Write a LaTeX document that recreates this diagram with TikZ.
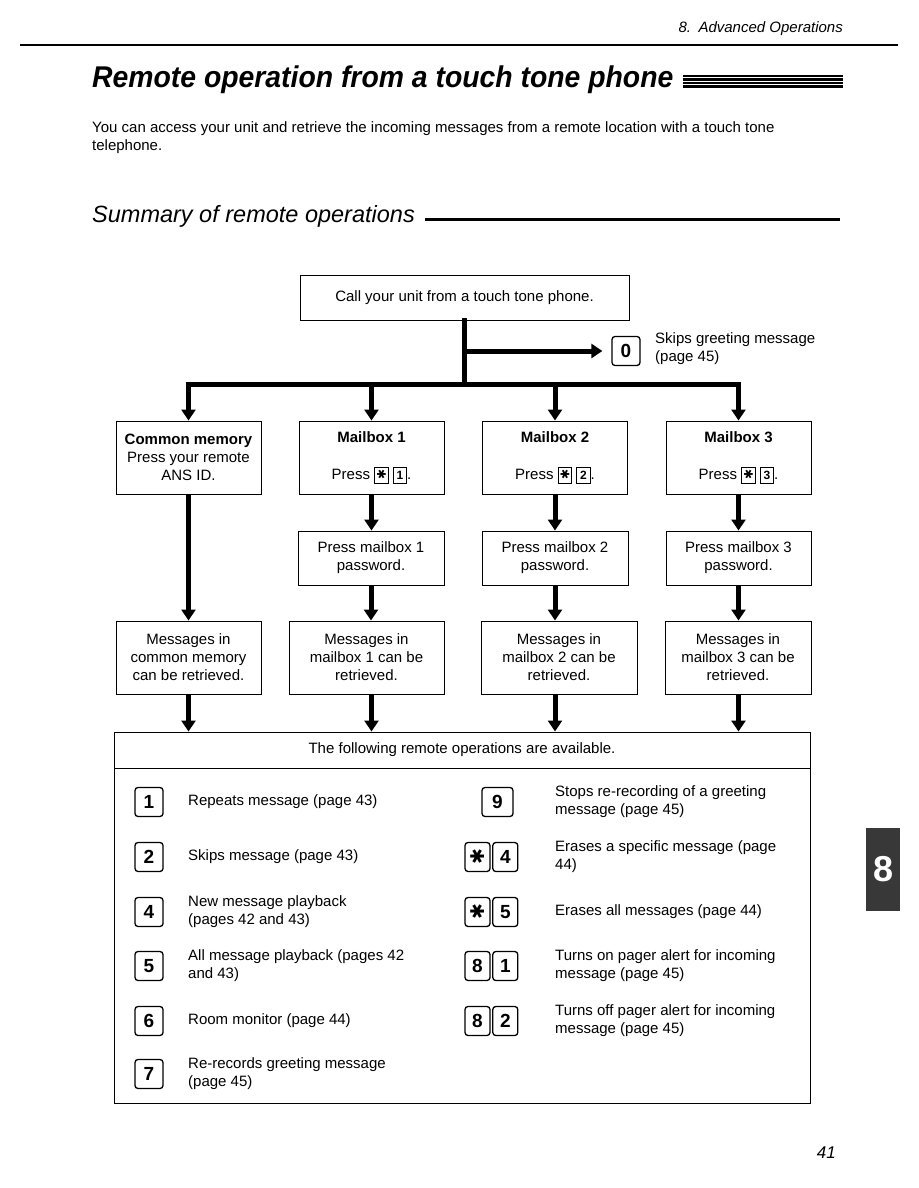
\documentclass[tikz,border=0pt]{standalone}
\usepackage{fontspec}
\setmainfont{Liberation Sans}
\newfontfamily\symfont{DejaVu Sans}
\usetikzlibrary{arrows.meta,positioning}
\newcommand\keystar{\rotatebox[origin=c]{90}{\symfont ✱}}
\newcommand\minikey[1]{{\setlength\fboxsep{1.2pt}\setlength\fboxrule{1pt}%
  \fbox{\makebox[10pt]{\rule[-2pt]{0pt}{12.5pt}\fontsize{12}{12}\selectfont\bfseries #1}}}}
\tikzset{
  font=\fontsize{15}{18}\selectfont,
  box/.style={draw,line width=1pt,inner sep=0pt,align=center,
              minimum width=145pt,minimum height=73pt},
  pwbox/.style={box,minimum height=54pt},
  keycap/.style={draw,line width=1.3pt,rounded corners=3pt,inner sep=0pt,
                 minimum width=28pt,minimum height=29pt,
                 font=\fontsize{19}{19}\selectfont\bfseries},
  halfkey/.style={keycap,minimum width=25pt},
  desc/.style={anchor=west,inner sep=0pt,align=left},
  trunk/.style={line width=5pt,line cap=rect},
  flowarrow/.style={line width=5pt,-{Triangle[width=14pt,length=11pt]}},
}

\begin{document}
\begin{tikzpicture}[x=1pt,y=-1pt]
  \useasboundingbox (0,0) rectangle (918,1188);

  \node[anchor=base east,inner sep=0pt,font=\fontsize{15}{18}\selectfont\itshape] (chap)
    at (843,33) {8.\enspace Advanced Operations};
  \draw[line width=1.2pt] (20,45) -- (898,45);
  \node[anchor=base west,inner sep=0pt,font=\fontsize{30}{34}\selectfont\bfseries\itshape] (title)
    at (92,88) {\scalebox{0.945}[1]{Remote operation from a touch tone phone}};
  \foreach \yy/\ww in {76/1.2,79.5/2.5,83/2.5,86.5/2.5}
    \draw[line width=\ww pt] (683,\yy) -- (843,\yy);
  \node[anchor=north west,inner sep=0pt,align=left] (intro) at (92,121)
    {You can access your unit and retrieve the incoming messages from a remote location with a touch tone\\telephone.};
  \node[anchor=base west,inner sep=0pt,font=\fontsize{23.5}{28}\selectfont\itshape] (summ)
    at (92,222) {Summary of remote operations};
  \draw[line width=3pt] (425,219.5) -- (840,219.5);

  \node[box,minimum width=329pt,minimum height=45pt] (call) at (464.5,297.5)
    {Call your unit from a touch tone phone.};
  \node[keycap] (k0) at (626,351) {0};
  \node[desc] (skip) at (655,349) {Skips greeting message\\(page 45)};

  \node[box] (cm) at (188.5,457.5) {\textbf{Common memory}\\Press your remote\\ANS ID.};
  \node[box] (mb1) at (371.5,457.5) {\textbf{Mailbox 1}\\[19pt]Press \minikey{\keystar} \minikey{1}.};
  \node[box] (mb2) at (555,457.5) {\textbf{Mailbox 2}\\[19pt]Press \minikey{\keystar} \minikey{2}.};
  \node[box] (mb3) at (738.5,457.5) {\textbf{Mailbox 3}\\[19pt]Press \minikey{\keystar} \minikey{3}.};

  \node[pwbox,minimum width=146pt] (pw1) at (371,558) {Press mailbox 1\\password.};
  \node[pwbox,minimum width=146pt] (pw2) at (555,558) {Press mailbox 2\\password.};
  \node[pwbox] (pw3) at (738.5,558) {Press mailbox 3\\password.};

  \node[box] (msgc) at (188.5,657.5) {Messages in\\common memory\\can be retrieved.};
  \node[box,minimum width=155pt] (msg1) at (366.5,657.5) {Messages in\\mailbox 1 can be\\retrieved.};
  \node[box,minimum width=156pt] (msg2) at (559,657.5) {Messages in\\mailbox 2 can be\\retrieved.};
  \node[box,minimum width=146pt] (msg3) at (738,657.5) {Messages in\\mailbox 3 can be\\retrieved.};

  \node[box,minimum width=696pt,minimum height=36pt] (opshead) at (462,750)
    {The following remote operations are available.};
  \node[box,minimum width=696pt,minimum height=335pt] (opsbody) at (462,935.5) {};

  \foreach \k/\yy/\txt [count=\i] in {
      1/802/{Repeats message (page 43)},
      2/857/{Skips message (page 43)},
      4/912/{New message playback\\(pages 42 and 43)},
      5/966/{All message playback (pages 42\\and 43)},
      6/1021/{Room monitor (page 44)},
      7/1074/{Re-records greeting message\\(page 45)}} {
    \node[keycap] (lk\i) at (149,\yy) {\k};
    \node[desc] (lt\i) at (188,\yy) {\txt};
  }

  \node[keycap,minimum width=31pt] (rk9) at (497.5,802) {9};
  \node[halfkey] (rs4) at (477.5,857) {\keystar};
  \node[halfkey,right=1.5pt of rs4] (rk4) {4};
  \node[halfkey] (rs5) at (477.5,912) {\keystar};
  \node[halfkey,right=1.5pt of rs5] (rk5) {5};
  \node[halfkey] (r8a) at (477.5,966) {8};
  \node[halfkey,right=1.5pt of r8a] (rk1) {1};
  \node[halfkey] (r8b) at (477.5,1021) {8};
  \node[halfkey,right=1.5pt of r8b] (rk2) {2};
  \node[desc] (rt9) at (555,802) {Stops re-recording of a greeting\\message (page 45)};
  \node[desc] (rt4) at (555,857) {Erases a specific message (page\\44)};
  \node[desc] (rt5) at (555,912) {Erases all messages (page 44)};
  \node[desc] (rt81) at (555,966) {Turns on pager alert for incoming\\message (page 45)};
  \node[desc] (rt82) at (555,1021) {Turns off pager alert for incoming\\message (page 45)};

  \node[fill=black!78,minimum width=34pt,minimum height=83pt,inner sep=0pt,text=white,
        font=\fontsize{36}{36}\selectfont\bfseries] (tab) at (883,869.5) {8};
  \node[anchor=base east,inner sep=0pt,font=\fontsize{17}{20}\selectfont\itshape] (page)
    at (836,1158) {41};

  \coordinate (bar) at (464.5,384);
  \draw[trunk] (call.south) -- (bar);
  \draw[flowarrow,shorten >=9pt] (call.south |- k0) -- (k0.west);
  \draw[trunk] (cm |- bar) -- (mb3 |- bar);
  \foreach \n in {cm,mb1,mb2,mb3}
    \draw[flowarrow] (\n |- bar) -- (\n.north);
  \foreach \a/\b in {mb1/pw1,mb2/pw2,mb3/pw3}
    \draw[flowarrow] (\a.south) -- (\a.south |- \b.north);
  \draw[flowarrow] (cm.south) -- (msgc.north);
  \foreach \a/\b in {pw1/msg1,pw2/msg2,pw3/msg3}
    \draw[flowarrow] (\a.south) -- (\a.south |- \b.north);
  \foreach \n/\m in {cm/msgc,mb1/msg1,mb2/msg2,mb3/msg3}
    \draw[flowarrow] (\n |- \m.south) -- (\n |- opshead.north);
\end{tikzpicture}
\end{document}
